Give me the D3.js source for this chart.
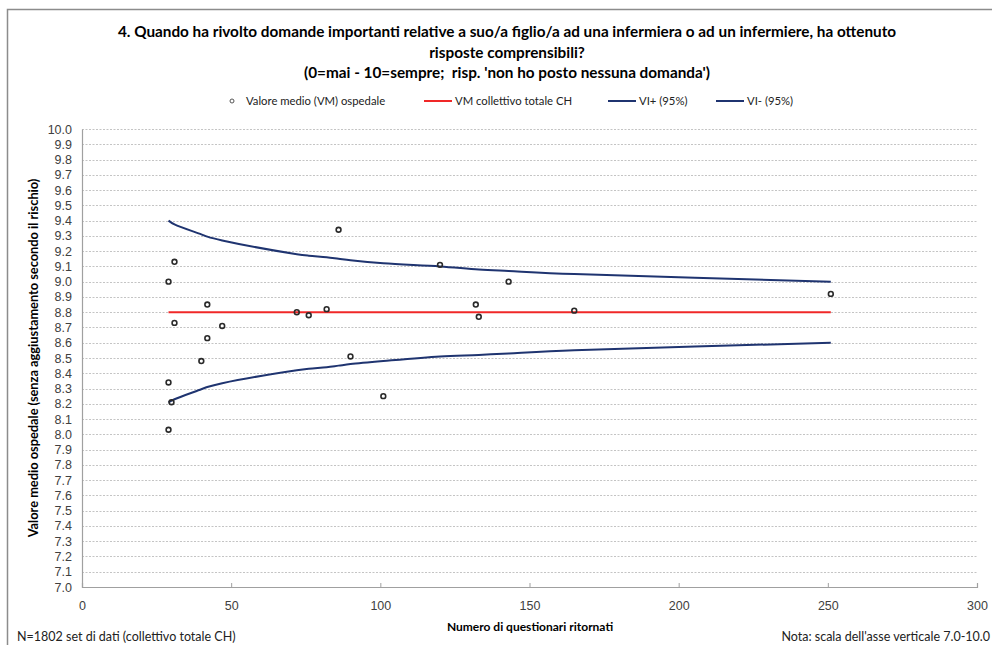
<!DOCTYPE html>
<html>
<head>
<meta charset="utf-8">
<script src="https://cdn.jsdelivr.net/npm/d3@7"></script>
<style>
  body { margin: 0; background: #fff; }
  svg { font-family: Lato, "Open Sans", sans-serif; }
  .title { font-weight: bold; font-size: 15.3px; fill: #000; }
  .legend text { font-size: 11.3px; fill: #222; }
  .tick text { font-size: 12.5px; fill: #404040; }
  .axis-title { font-weight: bold; font-size: 12px; fill: #000; }
  .foot { font-size: 12.5px; fill: #222; }
</style>
</head>
<body>
<svg width="992" height="645"></svg>
<script>
// hospital points: number of returned questionnaires, mean value
var hospN    = [29, 31, 86, 42, 72, 76, 82, 120, 143, 132, 133, 165, 251, 31, 47, 42, 40, 90, 29, 30, 29, 101];
var hospMean = [9.00, 9.13, 9.34, 8.85, 8.80, 8.78, 8.82, 9.11, 9.00, 8.85, 8.77, 8.81, 8.92, 8.73, 8.71, 8.63, 8.48, 8.51, 8.34, 8.21, 8.03, 8.25];

// collective mean line
var totalN    = [29, 251];
var totalMean = [8.80, 8.80];

// confidence interval curves
var ciN     = [29, 31, 40, 42, 47, 72, 76, 82, 86, 90, 101, 120, 133, 143, 165, 251];
var ciUpper = [9.40, 9.375, 9.31, 9.295, 9.27, 9.18, 9.17, 9.16, 9.15, 9.14, 9.12, 9.10, 9.08, 9.07, 9.05, 9.00];
var ciLower = [8.21, 8.23, 8.295, 8.31, 8.335, 8.42, 8.43, 8.44, 8.45, 8.46, 8.48, 8.51, 8.52, 8.53, 8.55, 8.60];

var titleLines = [
    "4. Quando ha rivolto domande importanti relative a suo/a figlio/a ad una infermiera o ad un infermiere, ha ottenuto",
    "risposte comprensibili?",
    "(0=mai - 10=sempre;  risp. 'non ho posto nessuna domanda')"
];

var svg = d3.select("svg");
var plotLeft = 82, plotRight = 977, plotTop = 129, plotBottom = 587;

// outer frame
svg.append("rect")
    .attr("x", 7.5).attr("y", 9.5)
    .attr("width", 1000).attr("height", 700)
    .attr("fill", "none").attr("stroke", "#8c8c8c").attr("stroke-width", 1.5);

svg.selectAll(".title")
    .data(titleLines)
    .enter()
    .append("text")
    .attr("class", "title")
    .attr("x", 507)
    .attr("y", function (d, i) { return 37 + i * 20.5; })
    .attr("text-anchor", "middle")
    .style("white-space", "pre")
    .text(function (d) { return d; });

var x = d3.scaleLinear().domain([0, 300]).range([plotLeft, plotRight]);
var y = d3.scaleLinear().domain([7, 10]).range([plotBottom, plotTop]);

// dotted gridlines
svg.append("g")
    .selectAll("line")
    .data(d3.range(71, 101).map(function (d) { return d / 10; }))
    .enter()
    .append("line")
    .attr("x1", plotLeft).attr("x2", plotRight)
    .attr("y1", function (d) { return Math.round(y(d)) + 0.5; })
    .attr("y2", function (d) { return Math.round(y(d)) + 0.5; })
    .attr("stroke", "#c4c4c4")
    .attr("stroke-dasharray", "2,1.5");

var yAxis = svg.append("g")
    .attr("transform", "translate(" + plotLeft + ",0)")
    .call(d3.axisLeft(y).tickValues(d3.range(70, 101).map(function (d) { return d / 10; }))
        .tickFormat(d3.format(".1f")).tickSize(0).tickPadding(10));
yAxis.select(".domain").attr("stroke", "#a0a0a0").attr("stroke-width", 1.2);

var xAxis = svg.append("g")
    .attr("transform", "translate(0," + plotBottom + ")")
    .call(d3.axisBottom(x).tickValues([0, 50, 100, 150, 200, 250, 300])
        .tickSizeInner(-4).tickSizeOuter(-4).tickPadding(14));
xAxis.select(".domain").attr("stroke", "#a0a0a0").attr("stroke-width", 1.2);
xAxis.selectAll(".tick line").attr("stroke", "#a0a0a0");

var line = d3.line()
    .x(function (d) { return x(d[0]); })
    .y(function (d) { return y(d[1]); })
    .curve(d3.curveCatmullRom.alpha(0.5));

svg.append("path")
    .attr("d", line(d3.zip(ciN, ciUpper)))
    .attr("fill", "none").attr("stroke", "#1f3470").attr("stroke-width", 2);

svg.append("path")
    .attr("d", line(d3.zip(ciN, ciLower)))
    .attr("fill", "none").attr("stroke", "#1f3470").attr("stroke-width", 2);

svg.append("path")
    .attr("d", line(d3.zip(totalN, totalMean)))
    .attr("fill", "none").attr("stroke", "#f02828").attr("stroke-width", 2);

svg.append("g")
    .selectAll("circle")
    .data(d3.zip(hospN, hospMean))
    .enter()
    .append("circle")
    .attr("cx", function (d) { return x(d[0]); })
    .attr("cy", function (d) { return y(d[1]); })
    .attr("r", 2.4)
    .attr("fill", "none")
    .attr("stroke", "#2a2a2a")
    .attr("stroke-width", 1.6);

// legend
var lg = svg.append("g").attr("class", "legend");
lg.append("circle").attr("cx", 232).attr("cy", 101).attr("r", 2)
    .attr("fill", "none").attr("stroke", "#555").attr("stroke-width", 1);
lg.append("text").attr("x", 246).attr("y", 105).text("Valore medio (VM) ospedale");
var legendLines = [
    { x: 424, color: "#f02828", label: "VM collettivo totale CH" },
    { x: 608, color: "#1f3470", label: "VI+ (95%)" },
    { x: 716, color: "#1f3470", label: "VI- (95%)" }
];
legendLines.forEach(function (d) {
    lg.append("line").attr("x1", d.x).attr("x2", d.x + 28)
        .attr("y1", 101).attr("y2", 101)
        .attr("stroke", d.color).attr("stroke-width", 2);
    lg.append("text").attr("x", d.x + 31).attr("y", 105).text(d.label);
});

svg.append("text")
    .attr("class", "axis-title")
    .attr("transform", "translate(38,358) rotate(-90)")
    .attr("text-anchor", "middle")
    .style("font-size", "12.8px")
    .text("Valore medio ospedale (senza aggiustamento secondo il rischio)");

svg.append("text")
    .attr("class", "axis-title")
    .attr("x", 530).attr("y", 631)
    .attr("text-anchor", "middle")
    .text("Numero di questionari ritornati");

svg.append("text").attr("class", "foot")
    .attr("x", 17).attr("y", 641)
    .text("N=1802 set di dati (collettivo totale CH)");

svg.append("text").attr("class", "foot")
    .attr("x", 990).attr("y", 641)
    .attr("text-anchor", "end")
    .text("Nota: scala dell'asse verticale 7.0-10.0");
</script>
</body>
</html>
